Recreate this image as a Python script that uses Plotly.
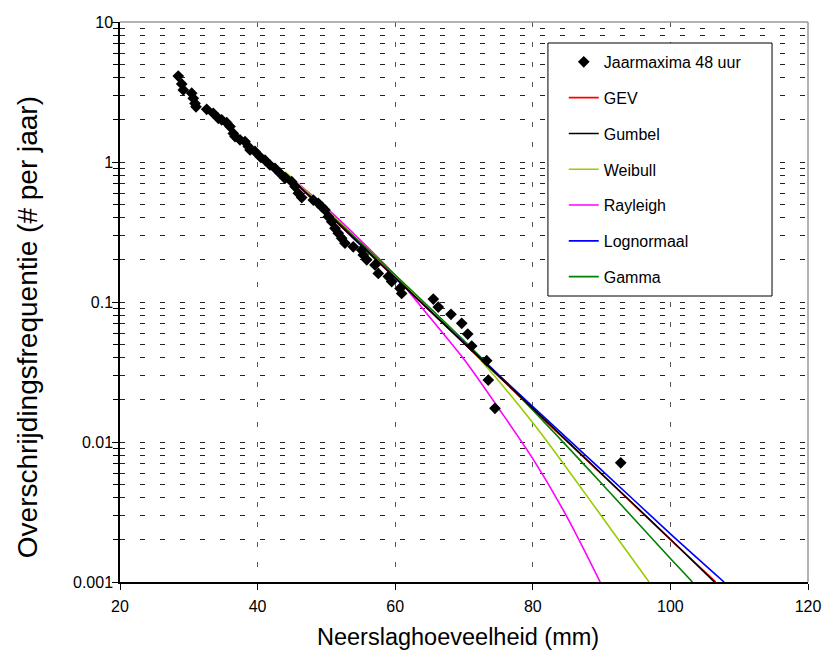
import plotly.graph_objects as go

# Observed annual maxima (48 h): precipitation (mm) and exceedance frequency (# per year)
obs_x = [28.47, 28.97, 29.20, 30.42, 30.65, 30.90, 31.05, 32.60, 33.56, 34.29, 34.78, 35.51,
         35.99, 36.47, 36.72, 37.44, 38.17, 38.65, 38.90, 39.62, 40.35, 41.08, 41.80, 42.53,
         43.26, 43.98, 44.96, 45.44, 45.92, 46.41, 48.10, 48.82, 49.36, 49.80, 50.28, 50.77,
         51.25, 51.73, 52.22, 52.70, 53.91, 55.13, 55.36, 55.86, 57.06, 57.54, 59.00, 59.49,
         60.70, 60.94, 65.54, 66.26, 68.11, 69.67, 70.54, 71.12, 73.30, 73.53, 74.50, 92.78]
obs_y = [4.11, 3.61, 3.27, 3.10, 2.85, 2.62, 2.48, 2.38, 2.23, 2.05, 2.00, 1.91,
         1.79, 1.60, 1.52, 1.44, 1.40, 1.29, 1.22, 1.19, 1.09, 1.03, 0.952, 0.902,
         0.830, 0.765, 0.723, 0.667, 0.598, 0.557, 0.535, 0.507, 0.477, 0.454, 0.407, 0.375,
         0.336, 0.310, 0.285, 0.263, 0.248, 0.235, 0.217, 0.200, 0.184, 0.160, 0.152, 0.140,
         0.125, 0.115, 0.105, 0.092, 0.0817, 0.0704, 0.059, 0.0485, 0.0381, 0.0277, 0.0174, 0.0071]

# Fitted distributions
gev_x = [44, 50, 60, 70, 80, 90, 100, 106.6]
gev_y = [0.835, 0.438, 0.149, 0.0507, 0.0172, 0.00588, 0.00201, 0.001]
gumbel_x = [44, 50, 60, 70, 80, 90, 100, 106.4]
gumbel_y = [0.834, 0.438, 0.149, 0.0509, 0.0174, 0.00593, 0.00202, 0.001]
weibull_x = [44, 50, 60, 70, 80, 90, 96.9]
weibull_y = [0.85, 0.455, 0.155, 0.052, 0.01374, 0.00295, 0.001]
rayleigh_x = [44, 50, 55, 60, 65, 70, 75, 80, 85, 89.8]
rayleigh_y = [0.84, 0.47, 0.275, 0.155, 0.078, 0.039, 0.0175, 0.0076, 0.0029, 0.001]
lognorm_x = [44, 50, 60, 70, 80, 90, 100, 107.8]
lognorm_y = [0.832, 0.437, 0.148, 0.0513, 0.0179, 0.0063, 0.00221, 0.001]
gamma_x = [44, 50, 60, 70, 80, 90, 100, 103.2]
gamma_y = [0.832, 0.447, 0.156, 0.0530, 0.0169, 0.00506, 0.00147, 0.001]

y_tickvals = [0.001, 0.01, 0.1, 1, 10]
y_ticktext = ["0.001", "0.01", "0.1", "1", "10"]
x_tickvals = [20, 40, 60, 80, 100, 120]

x_title = "Neerslaghoeveelheid (mm)"
y_title = "Overschrijdingsfrequentie (# per jaar)"

FONT = "Liberation Sans, Arial, sans-serif"

minor_vals = [m * 10 ** e for e in range(-3, 1) for m in range(2, 10)]

fig = go.Figure()

curves = [
    ("GEV", gev_x, gev_y, "#FF0000", 2),
    ("Gumbel", gumbel_x, gumbel_y, "#000000", 3),
    ("Weibull", weibull_x, weibull_y, "#99CC00", 4),
    ("Rayleigh", rayleigh_x, rayleigh_y, "#FF00FF", 5),
    ("Lognormaal", lognorm_x, lognorm_y, "#0000FF", 6),
    ("Gamma", gamma_x, gamma_y, "#008000", 7),
]
draw_order = ["Rayleigh", "Weibull", "Gamma", "Lognormaal", "GEV", "Gumbel"]
cd = {c[0]: c for c in curves}
for name in draw_order:
    n, xs, ys, col, rank = cd[name]
    fig.add_trace(go.Scatter(x=xs, y=ys, mode="lines", name=n,
                             line=dict(color=col, width=1.6, shape="spline", smoothing=0.8),
                             legendgroup=n, legendrank=rank))

fig.add_trace(go.Scatter(x=obs_x, y=obs_y, mode="markers", name="Jaarmaxima 48 uur",
                         marker=dict(symbol="diamond", size=9, color="black"),
                         legendgroup="obs", legendrank=1))

fig.update_layout(
    width=826, height=651,
    margin=dict(l=120, r=18, t=22, b=69, autoexpand=False),
    paper_bgcolor="white", plot_bgcolor="white",
    font=dict(family=FONT, size=16, color="black"),
    xaxis=dict(range=[20, 120], tickvals=x_tickvals, ticks="outside", ticklen=6,
               tickcolor="black", showline=True, linecolor="black", linewidth=1.5,
               showgrid=True, gridcolor="#555555", griddash="5px,15px", gridwidth=1,
               zeroline=False, ticklabelstandoff=3, automargin=False,
               tickfont=dict(size=16)),
    yaxis=dict(type="log", range=[-3, 1], tickvals=y_tickvals, ticktext=y_ticktext,
               ticks="outside", ticklen=6, tickcolor="black",
               showline=True, linecolor="black", linewidth=1.5,
               showgrid=True, gridcolor="#222222", griddash="5px,15px", gridwidth=1,
               ticklabelstandoff=-4, automargin=False,
               minor=dict(tickvals=minor_vals, ticks="outside", ticklen=5, tickcolor="black",
                          showgrid=True, gridcolor="#222222", griddash="5px,15px", gridwidth=1),
               tickfont=dict(size=16)),
    yaxis2=dict(type="log", range=[-3, 1], overlaying="y", anchor="x", side="left",
                tickvals=y_tickvals, showticklabels=False, ticks="inside", ticklen=4,
                tickcolor="black", showgrid=False, showline=False, zeroline=False,
                automargin=False,
                minor=dict(tickvals=minor_vals, ticks="inside", ticklen=4, tickcolor="black")),
    showlegend=True,
    legend=dict(x=0.645, y=0.959, xanchor="left", yanchor="top",
                bgcolor="rgba(0,0,0,0)", borderwidth=0,
                font=dict(size=16, family=FONT), tracegroupgap=12,
                itemsizing="trace", traceorder="grouped"),
    annotations=[
        dict(text=x_title, xref="paper", yref="paper", x=0.491, y=-0.0982,
             xanchor="center", yanchor="middle", showarrow=False, font=dict(size=23.5)),
        dict(text=y_title, xref="paper", yref="paper", x=-0.1352, y=0.455,
             xanchor="center", yanchor="middle", showarrow=False, textangle=-90,
             font=dict(size=28)),
    ],
    shapes=[
        dict(type="line", xref="paper", yref="paper", x0=0, x1=1, y0=1, y1=1,
             line=dict(color="#999999", width=1.5), layer="above"),
        dict(type="line", xref="paper", yref="paper", x0=1, x1=1, y0=0, y1=1,
             line=dict(color="#999999", width=1.5), layer="above"),
        dict(type="rect", xref="paper", yref="paper", x0=0.622, x1=0.9477, y0=0.5107, y1=0.9625,
             fillcolor="white", line=dict(color="black", width=1), layer="above"),
    ],
)

fig.write_html("out.html")
